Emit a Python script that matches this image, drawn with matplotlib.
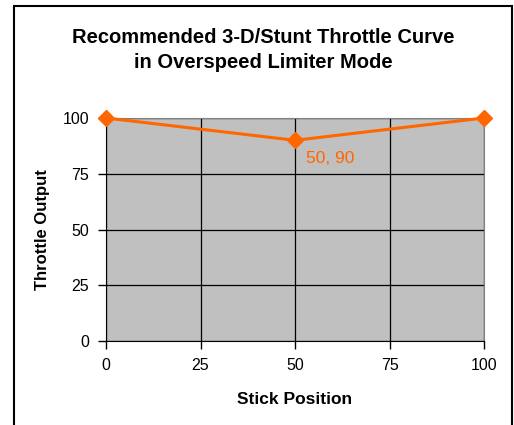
import matplotlib
matplotlib.use("Agg")
import matplotlib.pyplot as plt
from matplotlib.patches import Rectangle

plt.rcParams['font.family'] = ['Liberation Sans', 'DejaVu Sans']

# Données de la courbe
stick = [0, 50, 100]
throttle = [100, 90, 100]
ticks = [0, 25, 50, 75, 100]
orange = "#FF6600"

fig = plt.figure(figsize=(5.14, 4.25), dpi=100)
ax = fig.add_axes([106 / 514, 84 / 425, 378 / 514, 223 / 425])
ax.set_facecolor("#C0C0C0")

ax.set_xlim(0, 100)
ax.set_ylim(0, 100)
ax.set_xticks(ticks)
ax.set_yticks(ticks)
ax.grid(True, color="black", linewidth=0.9)
ax.set_axisbelow(True)

ax.plot(stick, throttle, color=orange, linewidth=2.2, marker="D",
        markersize=8, clip_on=False, zorder=5)
ax.annotate(f"{stick[1]}, {throttle[1]}", (stick[1], throttle[1]),
            xytext=(8, -13), textcoords="offset points",
            color=orange, fontsize=12.5, ha="left", va="center")

for side in ["top", "right"]:
    ax.spines[side].set_color("#808080")
for side in ["left", "bottom"]:
    ax.spines[side].set_color("black")
ax.tick_params(direction="out", length=6, width=1, labelsize=11.5, pad=6)

ax.set_xlabel("Stick Position", fontsize=12.5, fontweight="bold", labelpad=14)
ax.set_ylabel("Throttle Output", fontsize=12, fontweight="bold", labelpad=9)

fig.text(263 / 514, 1 - 50 / 425,
         "Recommended 3-D/Stunt Throttle Curve\nin Overspeed Limiter Mode",
         ha="center", va="center", fontsize=14.5, fontweight="bold",
         linespacing=1.45)

# Cadre autour du graphique
fig.patches.append(Rectangle((14 / 514, -0.1), 498 / 514, 1.1 - 6 / 425,
                             transform=fig.transFigure, fill=False,
                             edgecolor="black", linewidth=1.5))

fig.savefig("out.png", dpi=100)
